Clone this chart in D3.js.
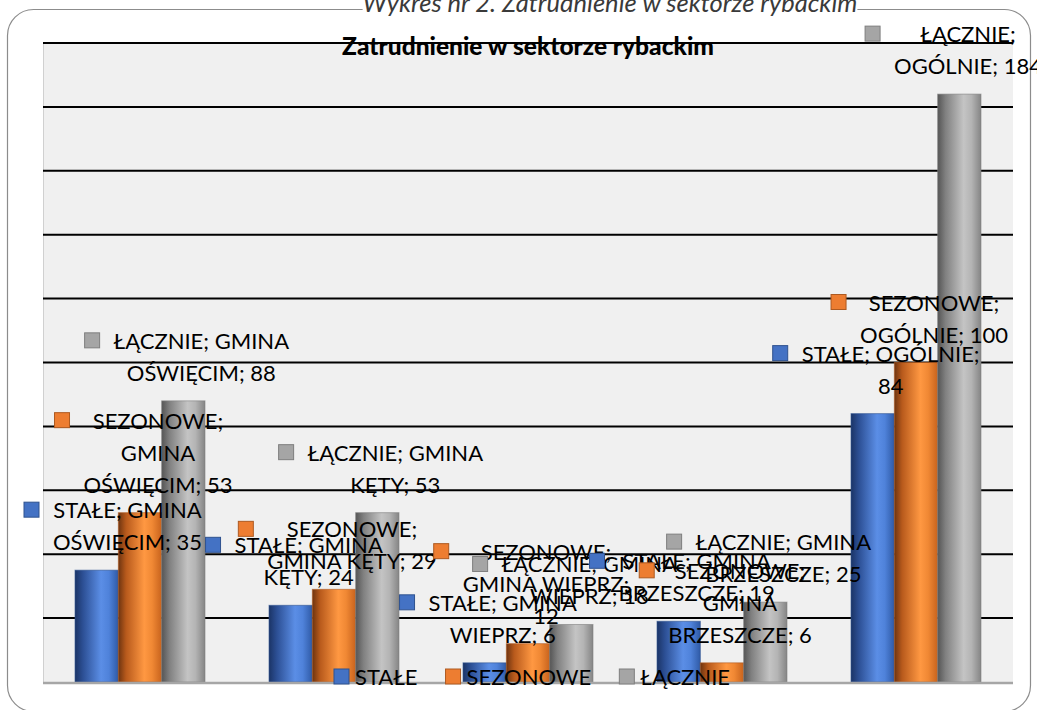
<!DOCTYPE html>
<html lang="pl">
<head>
<meta charset="utf-8">
<script src="https://cdn.jsdelivr.net/npm/d3@7"></script>
<style>
  body { margin: 0; background: #fff; }
  svg { display: block; font-family: Lato, 'Open Sans', sans-serif; }
</style>
</head>
<body>
<div id="chart"></div>
<script>
// dane wykresu
const categories = ['GMINA OŚWIĘCIM', 'GMINA KĘTY', 'GMINA WIEPRZ', 'GMINA BRZESZCZE', 'OGÓLNIE'];
const seriesNames = ['STAŁE', 'SEZONOWE', 'ŁĄCZNIE'];
const stale = [35, 24, 6, 19, 84];
const sezonowe = [53, 29, 12, 6, 100];
const lacznie = [88, 53, 18, 25, 184];
const yMax = 200;
const figureCaption = 'Wykres nr 2. Zatrudnienie w sektorze rybackim';
const chartTitle = 'Zatrudnienie w sektorze rybackim';

const seriesValues = [stale, sezonowe, lacznie];
const colors = {
  'STAŁE': { key: '#4472c4', edge: '#2f528f', stops: ['#1b3466', '#2c4f94', '#5b8ee6', '#4f82da', '#2f5aa6'] },
  'SEZONOWE': { key: '#ed7d31', edge: '#ae5a21', stops: ['#6e3410', '#b85a1c', '#ff9842', '#f08834', '#c8631d'] },
  'ŁĄCZNIE': { key: '#a5a5a5', edge: '#7f7f7f', stops: ['#555555', '#808080', '#c4c4c4', '#b4b4b4', '#858585'] }
};

const width = 1037;
const height = 710;
const plot = { left: 43, right: 1013, top: 43, bottom: 682 };
const fontSize = 22;
const lineH = 32;

const svg = d3
  .select('#chart')
  .append('svg')
  .attr('width', width)
  .attr('height', height);

const defs = svg.append('defs');
seriesNames.forEach((s, i) => {
  const g = defs
    .append('linearGradient')
    .attr('id', 'grad' + i)
    .attr('x1', 0)
    .attr('x2', 1)
    .attr('y1', 0)
    .attr('y2', 0);
  const offs = [0, 0.18, 0.6, 0.78, 1];
  colors[s].stops.forEach((c, k) => g.append('stop').attr('offset', offs[k]).attr('stop-color', c));
});

// ramka wykresu
svg
  .append('rect')
  .attr('x', 7.5)
  .attr('y', 9.5)
  .attr('width', 1023)
  .attr('height', 702)
  .attr('rx', 26)
  .attr('fill', '#fff')
  .attr('stroke', '#8c8c8c')
  .attr('stroke-width', 1.2);

// podpis nad ramką (z białym tłem zasłaniającym linię ramki)
const caption = svg
  .append('text')
  .attr('x', 610)
  .attr('y', 12)
  .attr('text-anchor', 'middle')
  .attr('font-style', 'italic')
  .attr('font-size', 25.5)
  .attr('fill', '#3a3a3a')
  .text(figureCaption);
const capBox = caption.node().getBBox();
svg
  .insert('rect', () => caption.node())
  .attr('x', capBox.x)
  .attr('y', 0)
  .attr('width', capBox.width)
  .attr('height', 16)
  .attr('fill', '#fff');

const x0 = d3
  .scaleBand()
  .domain(categories)
  .range([plot.left, plot.right])
  .paddingInner(0.33)
  .paddingOuter(0.165);

const x1 = d3.scaleBand().domain(seriesNames).range([0, x0.bandwidth()]);

const y = d3.scaleLinear().domain([0, yMax]).range([plot.bottom, plot.top]);

// tło obszaru kreślenia
svg
  .append('rect')
  .attr('x', plot.left)
  .attr('y', plot.top)
  .attr('width', plot.right - plot.left)
  .attr('height', plot.bottom - plot.top)
  .attr('fill', '#f0f0f0');
svg
  .append('line')
  .attr('x1', plot.left + 0.5)
  .attr('x2', plot.left + 0.5)
  .attr('y1', plot.top)
  .attr('y2', plot.bottom)
  .attr('stroke', '#d0d0d0');

// linie siatki
svg
  .append('g')
  .selectAll('line')
  .data(y.ticks(10).filter(d => d > 0))
  .join('line')
  .attr('x1', plot.left)
  .attr('x2', plot.right)
  .attr('y1', d => y(d))
  .attr('y2', d => y(d))
  .attr('stroke', '#000')
  .attr('stroke-width', 2);

// słupki
const bars = [];
categories.forEach((c, i) => {
  seriesNames.forEach((s, j) => {
    bars.push({ category: c, series: s, si: j, value: seriesValues[j][i] });
  });
});

svg
  .append('g')
  .selectAll('rect')
  .data(bars)
  .join('rect')
  .attr('x', d => x0(d.category) + x1(d.series))
  .attr('y', d => y(d.value))
  .attr('width', x1.bandwidth())
  .attr('height', d => y(0) - y(d.value))
  .attr('fill', d => `url(#grad${d.si})`)
  .attr('stroke', d => colors[d.series].edge)
  .attr('stroke-opacity', 0.6)
  .attr('stroke-width', 1);

// oś pozioma
svg
  .append('line')
  .attr('x1', plot.left)
  .attr('x2', plot.right)
  .attr('y1', plot.bottom + 1)
  .attr('y2', plot.bottom + 1)
  .attr('stroke', '#a6a6a6')
  .attr('stroke-width', 2.5);

// tytuł wykresu
svg
  .append('text')
  .attr('x', (plot.left + plot.right) / 2)
  .attr('y', 55)
  .attr('text-anchor', 'middle')
  .attr('font-weight', 900)
  .attr('font-size', 24.5)
  .attr('fill', '#000')
  .text(chartTitle);

// etykiety danych
const measure = svg.append('text').attr('font-size', fontSize).attr('visibility', 'hidden');
function textWidth(s) {
  measure.text(s);
  return measure.node().getComputedTextLength();
}
function wrap(s, maxW) {
  const words = s.split(' ');
  const lines = [];
  let line = words[0];
  words.slice(1).forEach(w => {
    const t = line + ' ' + w;
    if (textWidth(t) <= maxW) line = t;
    else {
      lines.push(line);
      line = w;
    }
  });
  lines.push(line);
  return lines;
}

const labels = svg.append('g').attr('font-size', fontSize).attr('fill', '#000');
bars.forEach(d => {
  const lines = wrap(`${d.series}; ${d.category}; ${d.value}`, 195);
  const maxW = d3.max(lines, textWidth);
  const barCx = x0(d.category) + x1(d.series) + x1.bandwidth() / 2;
  let cx = barCx + 18;
  if (cx - maxW / 2 - 29 < 24) cx = 24 + 29 + maxW / 2;
  if (cx + maxW / 2 > 1042) cx = 1042 - maxW / 2;
  const lastBase = y(d.value) - 20;
  const g = labels.append('g');
  lines.forEach((l, k) => {
    g.append('text')
      .attr('x', cx)
      .attr('y', lastBase - (lines.length - 1 - k) * lineH)
      .attr('text-anchor', 'middle')
      .text(l);
  });
  g.append('rect')
    .attr('x', cx - maxW / 2 - 29)
    .attr('y', lastBase - (lines.length - 1) * lineH - 16)
    .attr('width', 15)
    .attr('height', 15)
    .attr('fill', colors[d.series].key)
    .attr('stroke', colors[d.series].edge)
    .attr('stroke-width', 1);
});

// legenda
const legend = svg.append('g').attr('font-size', fontSize);
const itemW = seriesNames.map(s => 15 + 6 + textWidth(s));
const legendW = d3.sum(itemW) + 28 * (seriesNames.length - 1);
let lx = (plot.left + plot.right) / 2 + 4 - legendW / 2;
seriesNames.forEach((s, i) => {
  legend
    .append('rect')
    .attr('x', lx)
    .attr('y', 669)
    .attr('width', 15)
    .attr('height', 15)
    .attr('fill', colors[s].key)
    .attr('stroke', colors[s].edge);
  legend
    .append('text')
    .attr('x', lx + 21)
    .attr('y', 685)
    .text(s);
  lx += itemW[i] + 28;
});
</script>
</body>
</html>
